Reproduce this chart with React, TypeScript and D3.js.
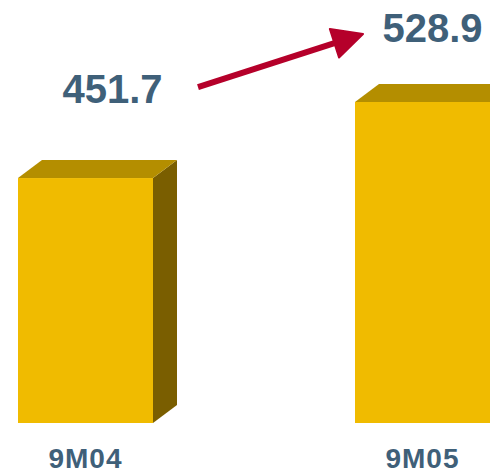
import React from "react";
import * as d3 from "d3";

const categories = ["9M04", "9M05"];
const values = [451.7, 528.9];
const valueLabels = ["451.7", "528.9"];

const W = 490;
const H = 474;

export default function App() {
  const x = d3.scalePoint<string>().domain(categories).range([85.5, 422.5]);
  const y = d3.scaleLinear().domain([203, 528.9]).range([423, 102]);
  const bw = 135;
  const dx = 24;
  const dy = 18;
  const front = "#f0bb00";
  const top = "#b48e00";
  const side = "#7a5e00";
  const textCol = "#3f6079";
  const arrowCol = "#b5002a";

  const bars = categories.map((c, i) => {
    const x0 = (x(c) as number) - bw / 2;
    const x1 = x0 + bw;
    const y0 = y(values[i]);
    const yb = y(y.domain()[0]);
    return { c, i, x0, x1, y0, yb };
  });

  const b0 = bars[0];
  const b1 = bars[1];
  // annotation positions relative to bars
  const l0x = (x(categories[0]) as number) + 27;
  const l0y = b0.y0 - 75;
  const l1x = (x(categories[1]) as number) + 10;
  const l1y = b1.y0 - 60;

  const ax1 = b0.x1 + 45;
  const ay1 = b0.y0 - 91;
  const ax2 = b1.x0 + 8;
  const ay2 = b1.y0 - 68;
  const ang = Math.atan2(ay2 - ay1, ax2 - ax1);
  const headLen = 30;
  const headHalf = 15;
  const bx = ax2 - headLen * Math.cos(ang);
  const by = ay2 - headLen * Math.sin(ang);
  const px = -Math.sin(ang);
  const py = Math.cos(ang);
  const head = [
    [ax2, ay2],
    [bx + px * headHalf, by + py * headHalf],
    [bx - px * headHalf, by - py * headHalf],
  ];
  const line = d3.line();

  return (
    <svg
      width={W}
      height={H}
      style={{ position: "absolute", left: 0, top: 0, background: "#fff" }}
      fontFamily="'Liberation Sans', Arial, sans-serif"
    >
      {bars.map((b) => (
        <g key={b.c}>
          <path
            d={line([
              [b.x1, b.y0],
              [b.x1 + dx, b.y0 - dy],
              [b.x1 + dx, b.yb - dy],
              [b.x1, b.yb],
            ])! + "Z"}
            fill={side}
          />
          <path
            d={line([
              [b.x0, b.y0],
              [b.x0 + dx, b.y0 - dy],
              [b.x1 + dx, b.y0 - dy],
              [b.x1, b.y0],
            ])! + "Z"}
            fill={top}
          />
          <rect x={b.x0} y={b.y0} width={bw} height={b.yb - b.y0} fill={front} />
          <text
            x={x(b.c)}
            y={b.yb + 45}
            textAnchor="middle"
            fontSize={28}
            fontWeight="bold"
            fill={textCol}
            letterSpacing={1}
          >
            {b.c}
          </text>
        </g>
      ))}
      <text x={l0x} y={l0y} textAnchor="middle" fontSize={40} fontWeight="bold" fill={textCol}>
        {valueLabels[0]}
      </text>
      <text x={l1x} y={l1y} textAnchor="middle" fontSize={40} fontWeight="bold" fill={textCol}>
        {valueLabels[1]}
      </text>
      <line x1={ax1} y1={ay1} x2={bx} y2={by} stroke={arrowCol} strokeWidth={6} />
      <path d={line(head as [number, number][])! + "Z"} fill={arrowCol} stroke={arrowCol} strokeWidth={2} strokeLinejoin="round" />
    </svg>
  );
}
